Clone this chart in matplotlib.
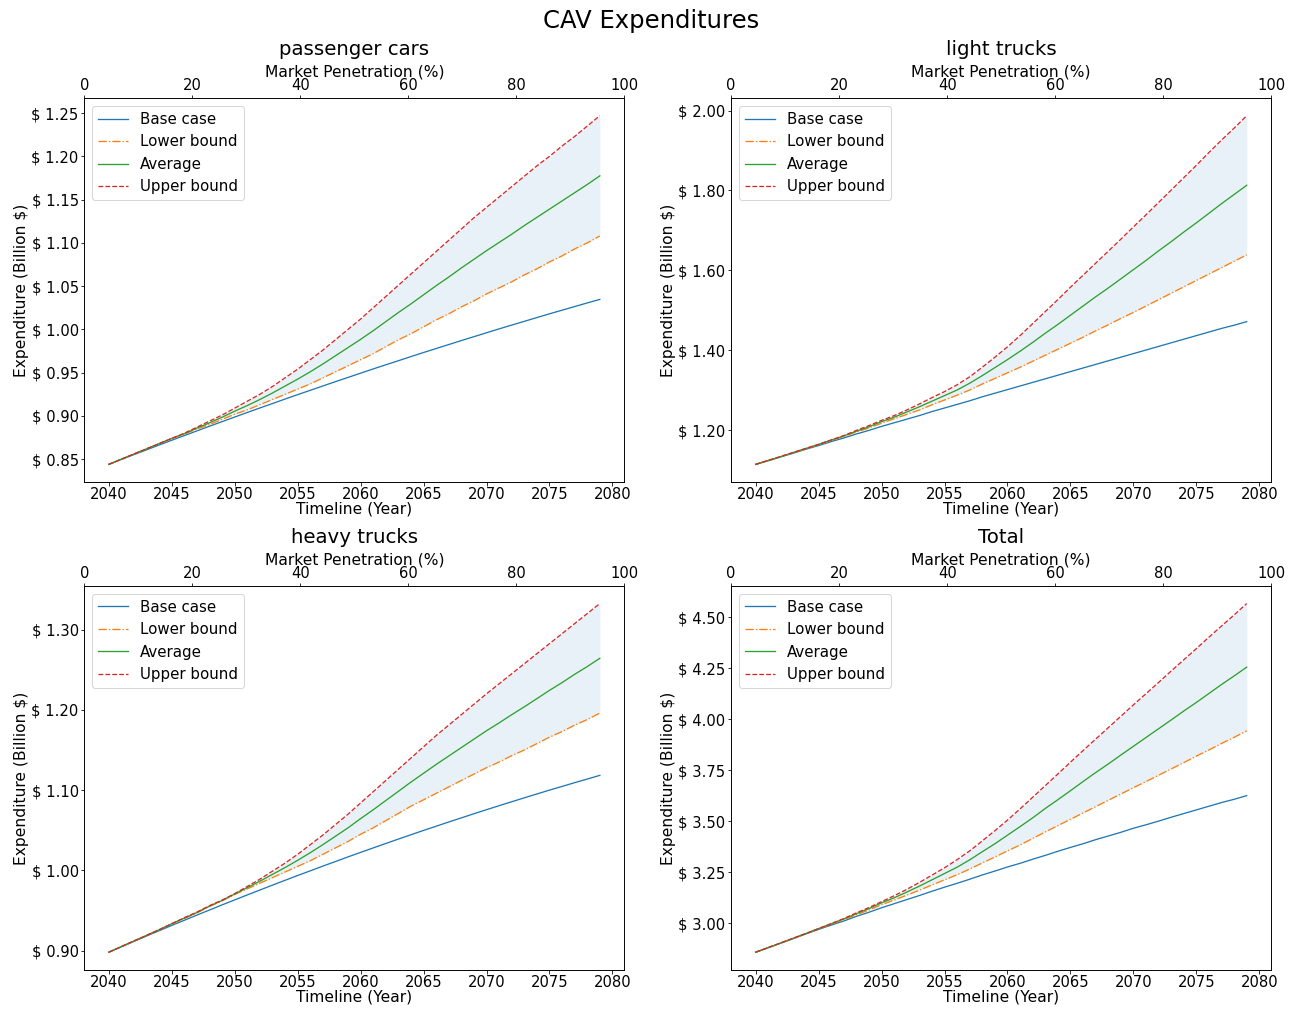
import matplotlib
matplotlib.use("Agg")
import matplotlib.pyplot as plt
from matplotlib.ticker import FormatStrFormatter, MultipleLocator

years = list(range(2040, 2080))

# passenger cars (billion $)
cars_base = [0.8440, 0.8497, 0.8553, 0.8608, 0.8664, 0.8719, 0.8773, 0.8827, 0.8881, 0.8934,
             0.8987, 0.9040, 0.9092, 0.9143, 0.9195, 0.9246, 0.9296, 0.9346, 0.9396, 0.9445,
             0.9494, 0.9543, 0.9591, 0.9638, 0.9686, 0.9733, 0.9779, 0.9825, 0.9871, 0.9916,
             0.9961, 1.0006, 1.0050, 1.0093, 1.0137, 1.0180, 1.0222, 1.0264, 1.0306, 1.0347]
cars_lower = [0.844, 0.850, 0.856, 0.862, 0.868, 0.874, 0.879, 0.885, 0.890, 0.896,
              0.902, 0.907, 0.913, 0.919, 0.925, 0.931, 0.937, 0.944, 0.951, 0.958,
              0.965, 0.972, 0.980, 0.988, 0.995, 1.003, 1.011, 1.018, 1.026, 1.033,
              1.041, 1.048, 1.055, 1.063, 1.070, 1.078, 1.085, 1.093, 1.100, 1.108]
cars_avg = [0.844, 0.850, 0.856, 0.862, 0.868, 0.874, 0.8795, 0.886, 0.892, 0.8985,
            0.9055, 0.912, 0.919, 0.9265, 0.9345, 0.9425, 0.951, 0.960, 0.9695, 0.979,
            0.9885, 0.9985, 1.009, 1.0195, 1.0295, 1.040, 1.0505, 1.0605, 1.071, 1.081,
            1.091, 1.1005, 1.110, 1.120, 1.1295, 1.139, 1.1485, 1.158, 1.1675, 1.1775]
cars_upper = [0.844, 0.850, 0.856, 0.862, 0.868, 0.874, 0.880, 0.887, 0.894, 0.901,
              0.909, 0.917, 0.925, 0.934, 0.944, 0.954, 0.965, 0.976, 0.988, 1.000,
              1.012, 1.025, 1.038, 1.051, 1.064, 1.077, 1.090, 1.103, 1.116, 1.129,
              1.141, 1.153, 1.165, 1.177, 1.189, 1.200, 1.212, 1.223, 1.235, 1.247]

# light trucks
light_base = [1.115, 1.124, 1.134, 1.143, 1.153, 1.162, 1.172, 1.181, 1.191, 1.200,
              1.210, 1.219, 1.228, 1.237, 1.247, 1.256, 1.265, 1.274, 1.284, 1.293,
              1.302, 1.311, 1.320, 1.329, 1.338, 1.347, 1.356, 1.365, 1.374, 1.383,
              1.392, 1.401, 1.410, 1.419, 1.428, 1.437, 1.446, 1.455, 1.463, 1.472]
light_lower = [1.115, 1.124, 1.134, 1.144, 1.154, 1.164, 1.175, 1.185, 1.196, 1.206,
               1.218, 1.229, 1.240, 1.251, 1.264, 1.276, 1.288, 1.301, 1.316, 1.330,
               1.344, 1.358, 1.373, 1.388, 1.403, 1.418, 1.433, 1.449, 1.464, 1.480,
               1.495, 1.511, 1.527, 1.543, 1.559, 1.575, 1.591, 1.607, 1.623, 1.639]
light_avg = [1.115, 1.125, 1.134, 1.145, 1.155, 1.165, 1.176, 1.186, 1.198, 1.209,
             1.222, 1.233, 1.246, 1.259, 1.273, 1.287, 1.301, 1.318, 1.337, 1.357,
             1.377, 1.398, 1.420, 1.443, 1.465, 1.488, 1.511, 1.534, 1.556, 1.579,
             1.602, 1.625, 1.649, 1.672, 1.696, 1.719, 1.743, 1.767, 1.790, 1.813]
light_upper = [1.115, 1.125, 1.135, 1.145, 1.155, 1.165, 1.176, 1.187, 1.200, 1.212,
               1.225, 1.237, 1.251, 1.266, 1.282, 1.297, 1.314, 1.334, 1.358, 1.383,
               1.409, 1.437, 1.467, 1.497, 1.527, 1.558, 1.588, 1.618, 1.648, 1.678,
               1.709, 1.739, 1.770, 1.801, 1.832, 1.863, 1.895, 1.926, 1.956, 1.987]

# heavy trucks
heavy_base = [0.8980, 0.9048, 0.9115, 0.9182, 0.9248, 0.9314, 0.9378, 0.9443, 0.9506, 0.9570,
              0.9632, 0.9694, 0.9755, 0.9816, 0.9876, 0.9936, 0.9994, 1.0053, 1.0110, 1.0168,
              1.0224, 1.0280, 1.0335, 1.0390, 1.0444, 1.0498, 1.0550, 1.0603, 1.0654, 1.0706,
              1.0756, 1.0806, 1.0855, 1.0904, 1.0952, 1.1000, 1.1046, 1.1093, 1.1138, 1.1184]
heavy_lower = [0.898, 0.905, 0.912, 0.919, 0.926, 0.9335, 0.940, 0.947, 0.955, 0.962,
               0.970, 0.977, 0.984, 0.991, 0.998, 1.005, 1.012, 1.020, 1.028, 1.036,
               1.045, 1.053, 1.062, 1.071, 1.080, 1.088, 1.096, 1.104, 1.112, 1.120,
               1.128, 1.135, 1.143, 1.150, 1.158, 1.166, 1.173, 1.181, 1.188, 1.196]
heavy_avg = [0.898, 0.905, 0.912, 0.919, 0.926, 0.9335, 0.9405, 0.9475, 0.9555, 0.9625,
             0.9705, 0.9785, 0.9865, 0.995, 1.0035, 1.0125, 1.022, 1.032, 1.0425, 1.053,
             1.0645, 1.0755, 1.087, 1.0985, 1.110, 1.121, 1.132, 1.1425, 1.153, 1.1635,
             1.174, 1.1838, 1.194, 1.2038, 1.214, 1.2243, 1.234, 1.2443, 1.254, 1.2643]
heavy_upper = [0.898, 0.905, 0.912, 0.919, 0.926, 0.9335, 0.941, 0.948, 0.956, 0.963,
               0.971, 0.980, 0.989, 0.999, 1.009, 1.020, 1.032, 1.044, 1.057, 1.070,
               1.084, 1.098, 1.112, 1.126, 1.140, 1.154, 1.168, 1.181, 1.194, 1.207,
               1.220, 1.2325, 1.245, 1.2575, 1.270, 1.2825, 1.295, 1.3075, 1.320, 1.3325]

# all vehicle classes together
total_base = [2.857, 2.879, 2.902, 2.924, 2.947, 2.969, 2.990, 3.010, 3.033, 3.053,
              3.075, 3.095, 3.115, 3.135, 3.156, 3.176, 3.195, 3.215, 3.236, 3.255,
              3.275, 3.293, 3.313, 3.332, 3.352, 3.371, 3.389, 3.409, 3.427, 3.445,
              3.465, 3.482, 3.500, 3.519, 3.537, 3.555, 3.573, 3.591, 3.607, 3.625]
total_lower = [2.857, 2.879, 2.902, 2.925, 2.948, 2.972, 2.994, 3.017, 3.041, 3.064,
               3.090, 3.113, 3.137, 3.161, 3.187, 3.212, 3.237, 3.265, 3.295, 3.324,
               3.354, 3.383, 3.415, 3.447, 3.478, 3.509, 3.540, 3.571, 3.602, 3.633,
               3.664, 3.694, 3.725, 3.756, 3.787, 3.819, 3.849, 3.881, 3.911, 3.943]
total_avg = [2.857, 2.880, 2.902, 2.926, 2.949, 2.973, 2.997, 3.020, 3.046, 3.071,
             3.099, 3.124, 3.152, 3.181, 3.212, 3.243, 3.274, 3.310, 3.350, 3.389,
             3.431, 3.473, 3.516, 3.562, 3.605, 3.649, 3.694, 3.738, 3.780, 3.824,
             3.867, 3.910, 3.953, 3.996, 4.040, 4.082, 4.126, 4.170, 4.212, 4.255]
total_upper = [2.857, 2.880, 2.903, 2.926, 2.949, 2.973, 2.997, 3.022, 3.050, 3.076,
               3.105, 3.134, 3.165, 3.199, 3.235, 3.271, 3.311, 3.354, 3.403, 3.453,
               3.505, 3.560, 3.617, 3.674, 3.731, 3.789, 3.846, 3.902, 3.958, 4.014,
               4.070, 4.125, 4.180, 4.236, 4.291, 4.346, 4.402, 4.457, 4.511, 4.567]

panels = [
    ("passenger cars", cars_base, cars_lower, cars_avg, cars_upper, 0.05),
    ("light trucks", light_base, light_lower, light_avg, light_upper, 0.2),
    ("heavy trucks", heavy_base, heavy_lower, heavy_avg, heavy_upper, 0.1),
    ("Total", total_base, total_lower, total_avg, total_upper, 0.25),
]

plt.rcParams["font.size"] = 15
plt.rcParams["xtick.labelsize"] = 14.7
plt.rcParams["ytick.labelsize"] = 14.7
plt.rcParams["xtick.major.pad"] = 1.5
plt.rcParams["ytick.major.pad"] = 2

fig, axes = plt.subplots(2, 2, figsize=(1302 / 72, 1009 / 72), dpi=72)
fig.subplots_adjust(left=0.0647, right=0.9764, top=0.9026, bottom=0.039,
                    wspace=0.1976, hspace=0.272)
fig.suptitle("CAV Expenditures", fontsize=24.3, y=0.979, va="center")

for ax, (name, base, lower, avg, upper, step) in zip(axes.flat, panels):
    ax.plot(years, base, color="C0", lw=1.3, label="Base case")
    ax.plot(years, lower, color="C1", lw=1.3, ls="-.", label="Lower bound")
    ax.plot(years, avg, color="C2", lw=1.3, label="Average")
    ax.plot(years, upper, color="C3", lw=1.3, ls="--", label="Upper bound")
    ax.fill_between(years, lower, upper, color="C0", alpha=0.1, lw=0)

    ax.yaxis.set_major_locator(MultipleLocator(step))
    ax.yaxis.set_major_formatter(FormatStrFormatter("$ %.2f"))
    ax.set_xlabel("Timeline (Year)", fontsize=15.5, labelpad=0)
    ax.set_ylabel("Expenditure (Billion $)", fontsize=15.5, labelpad=2)
    ax.legend(loc="upper left")

    top = ax.twiny()
    top.set_xlim(0, 100)
    top.set_xlabel("Market Penetration (%)", fontsize=15.5, labelpad=2)
    top.set_title(name, fontsize=19.7, pad=9)

fig.savefig("out.png", dpi=72)
